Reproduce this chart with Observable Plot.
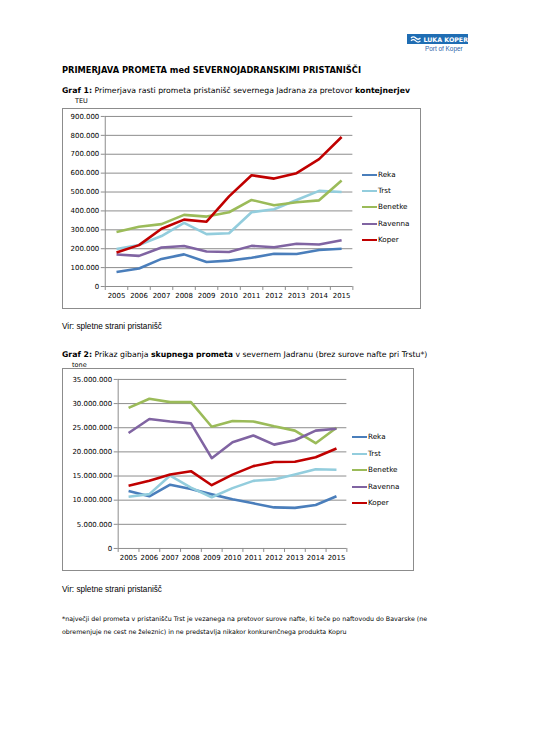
<!DOCTYPE html>
<html><head><meta charset="utf-8">
<script src="https://cdn.jsdelivr.net/npm/d3@7"></script>
<script src="https://cdn.jsdelivr.net/npm/@observablehq/plot@0.6"></script>
<style>
body{margin:0;background:#fff;width:533px;height:750px;position:relative;overflow:hidden;font-family:"DejaVu Sans",Verdana,sans-serif;color:#000}
.abs{position:absolute;white-space:nowrap;line-height:1}
.box{position:absolute;border:1px solid #8c8c8c;box-sizing:border-box;background:#fff}
.box svg{position:absolute;left:-1px;top:-1px}
.leg{position:absolute;display:flex;align-items:center;font-size:7.2px;line-height:1;white-space:nowrap}
.leg i{display:inline-block;width:15px;height:2.5px;margin-right:1px}
</style></head><body>
<div id="page"></div>
<script>
// ---------- data ----------
const years = [2005, 2006, 2007, 2008, 2009, 2010, 2011, 2012, 2013, 2014, 2015];
const ports = ["Reka", "Trst", "Benetke", "Ravenna", "Koper"];
const portColors = ["#4a7ebb", "#93cddd", "#9bbb59", "#8064a2", "#c00000"];

// Graf 1 – TEU
const teuReka    = [77000, 95000, 146000, 170000, 130000, 137000, 152000, 173000, 172000, 193000, 200000];
const teuTrst    = [198000, 220000, 267000, 337000, 277000, 282000, 393000, 409000, 458000, 506000, 500000];
const teuBenetke = [289000, 316000, 330000, 379000, 370000, 393000, 458000, 430000, 446000, 456000, 561000];
const teuRavenna = [169000, 162000, 206000, 214000, 185000, 183000, 215000, 208000, 226000, 222000, 245000];
const teuKoper   = [180000, 219000, 306000, 354000, 343000, 477000, 589000, 571000, 600000, 674000, 791000];
const teuTicks   = [0, 100000, 200000, 300000, 400000, 500000, 600000, 700000, 800000, 900000];

// Graf 2 – tone
const toneReka    = [11900000, 10800000, 13200000, 12300000, 11200000, 10200000, 9350000, 8500000, 8400000, 9000000, 10800000];
const toneTrst    = [10700000, 11250000, 15100000, 12600000, 10600000, 12500000, 14000000, 14300000, 15300000, 16400000, 16300000];
const toneBenetke = [29100000, 31000000, 30300000, 30300000, 25200000, 26400000, 26300000, 25300000, 24400000, 21800000, 25000000];
const toneRavenna = [23900000, 26800000, 26300000, 25900000, 18700000, 22000000, 23400000, 21500000, 22400000, 24400000, 24800000];
const toneKoper   = [13000000, 14000000, 15300000, 16000000, 13100000, 15300000, 17050000, 17900000, 17950000, 18900000, 20700000];
const toneTicks   = [0, 5000000, 10000000, 15000000, 20000000, 25000000, 30000000, 35000000];

// ---------- helpers ----------
const page = document.getElementById("page");
const fmt = d3.formatLocale({decimal: ",", thousands: ".", grouping: [3], currency: ["", ""]}).format(",");

function txt(html, x, cy, size, extra = "") {
  const d = document.createElement("div");
  d.className = "abs";
  d.style.cssText = `left:${x}px;top:${cy - size / 2}px;font-size:${size}px;${extra}`;
  d.innerHTML = html;
  page.appendChild(d);
  return d;
}

function chart(cfg) {
  const series = [cfg.reka, cfg.trst, cfg.benetke, cfg.ravenna, cfg.koper];
  const rows = [];
  series.forEach((vals, s) => vals.forEach((v, i) => rows.push({year: years[i], value: v, port: ports[s]})));
  const x0 = years[0] - 0.5, x1 = years[years.length - 1] + 0.5;
  const bounds = [...years.map(y => y - 0.5), x1];
  const grey = "#8c8c8c";
  const svg = Plot.plot({
    width: cfg.w, height: cfg.h,
    marginLeft: cfg.ml, marginRight: cfg.mr, marginTop: cfg.mt, marginBottom: cfg.mb,
    style: {background: "transparent", fontFamily: "DejaVu Sans, Verdana, sans-serif", fontSize: "7px", color: "#000", overflow: "visible"},
    x: {type: "linear", domain: [x0, x1], axis: null, label: null},
    y: {domain: [0, cfg.ticks[cfg.ticks.length - 1]], axis: null, label: null},
    color: {domain: ports, range: portColors},
    marks: [
      Plot.ruleY(cfg.ticks, {y: d => d, stroke: grey, strokeWidth: 1}),
      Plot.ruleX([x0], {x: d => d, stroke: grey, strokeWidth: 1}),
      Plot.axisY({ticks: cfg.ticks, tickFormat: fmt, tickSize: 4, tickPadding: 2, stroke: grey, fill: "#000", label: null}),
      Plot.axisX({ticks: bounds, tickFormat: () => "", tickSize: 4, stroke: grey, label: null}),
      Plot.axisX({ticks: years, tickFormat: d => String(d), tickSize: 0, tickPadding: 7, fill: "#000", label: null}),
      Plot.line(rows, {x: "year", y: "value", z: "port", stroke: "port", strokeWidth: 2.6, strokeLinejoin: "round", strokeLinecap: "butt"})
    ]
  });
  const box = document.createElement("div");
  box.className = "box";
  box.style.cssText = `left:${cfg.left}px;top:${cfg.top}px;width:${cfg.w}px;height:${cfg.h}px`;
  box.appendChild(svg);
  page.appendChild(box);
  // legend
  ports.forEach((p, i) => {
    const l = document.createElement("div");
    l.className = "leg";
    l.style.cssText = `left:${cfg.legX}px;top:${cfg.legY[i] - 4}px;height:8px`;
    l.innerHTML = `<i style="background:${portColors[i]}"></i>${p}`;
    page.appendChild(l);
  });
}

// ---------- logo ----------
const logo = document.createElement("div");
logo.style.cssText = "position:absolute;left:407px;top:34px;width:61px;height:10px;background:#1f6db3;color:#fff;font:bold 6.3px 'DejaVu Sans';display:flex;align-items:center;gap:2px;padding-left:3px;box-sizing:border-box;white-space:nowrap";
logo.innerHTML = `<svg width="12" height="8" viewBox="0 0 12 8"><path d="M1 3 Q3.5 0.5 6 3 T11 3" fill="none" stroke="#fff" stroke-width="1.3"/><path d="M1 6 Q3.5 3.5 6 6 T11 6" fill="none" stroke="#fff" stroke-width="1.3"/></svg>LUKA KOPER`;
page.appendChild(logo);
txt("Port of Koper", 425, 49.5, 6.4, "color:#2a64a8;font-family:'Liberation Sans',Arial,sans-serif");

// ---------- texts ----------
txt("PRIMERJAVA PROMETA med SEVERNOJADRANSKIMI PRISTANIŠČI", 62, 70, 8.3, "font-weight:bold");
txt("<b>Graf 1:</b> Primerjava rasti prometa pristanišč severnega Jadrana za pretovor <b>kontejnerjev</b>", 62, 91, 7.75);
txt("TEU", 75, 101.5, 6.5);
txt("Vir: spletne strani pristanišč", 62, 327, 8.2, "font-family:'Liberation Sans',Arial,sans-serif");
txt("<b>Graf 2:</b> Prikaz gibanja <b>skupnega prometa</b> v severnem Jadranu (brez surove nafte pri Trstu*)", 62, 355, 7.75);
txt("tone", 72, 365.5, 6.5);
txt("Vir: spletne strani pristanišč", 62, 590, 8.2, "font-family:'Liberation Sans',Arial,sans-serif");
txt("*največji del prometa v pristanišču Trst je vezanega na pretovor surove nafte, ki teče po naftovodu do Bavarske (ne", 62, 619, 6.3);
txt("obremenjuje ne cest ne železnic) in ne predstavlja nikakor konkurenčnega produkta Kopru", 62, 632, 6.3);

// ---------- charts ----------
chart({left: 62, top: 108, w: 359, h: 201, ml: 43, mr: 67, mt: 8, mb: 22,
  reka: teuReka, trst: teuTrst, benetke: teuBenetke, ravenna: teuRavenna, koper: teuKoper,
  ticks: teuTicks, legX: 362, legY: [175, 191, 207, 224, 240]});
chart({left: 62, top: 368, w: 352, h: 203, ml: 56, mr: 66, mt: 11, mb: 22,
  reka: toneReka, trst: toneTrst, benetke: toneBenetke, ravenna: toneRavenna, koper: toneKoper,
  ticks: toneTicks, legX: 352, legY: [437, 454, 470, 487, 503]});
</script>
</body></html>
